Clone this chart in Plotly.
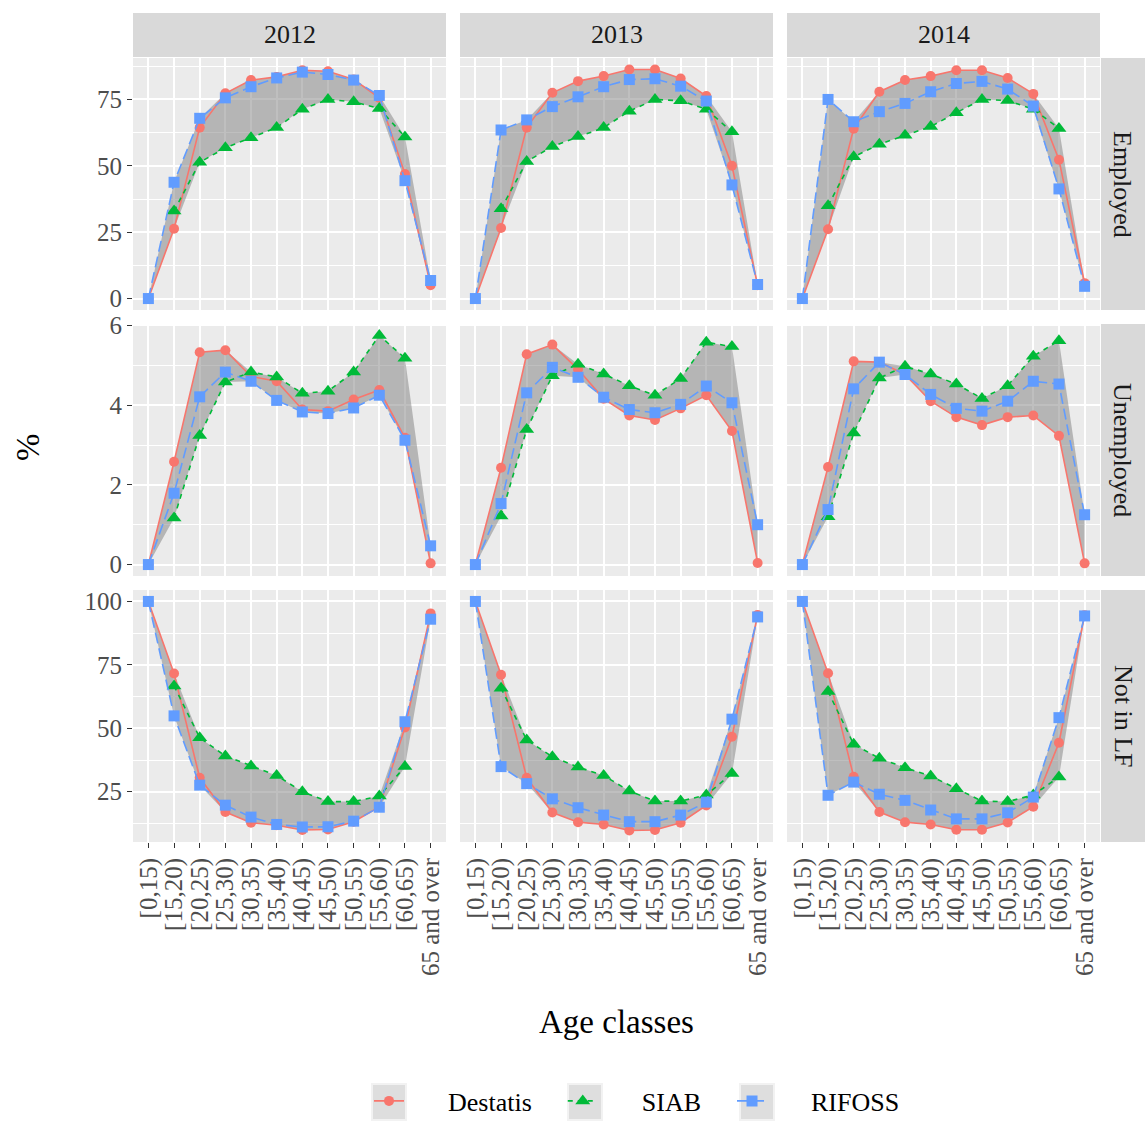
import numpy as np
import plotly.graph_objects as go

# ---------------- data ----------------
age_classes = ["[0,15)", "[15,20)", "[20,25)", "[25,30)", "[30,35)", "[35,40)",
               "[40,45)", "[45,50)", "[50,55)", "[55,60)", "[60,65)", "65 and over"]
years = ["2012", "2013", "2014"]
statuses = ["Employed", "Unemployed", "Not in LF"]
sources = ["Destatis", "SIAB", "RIFOSS"]

# Employed (%)
destatis_employed_2012 = [0, 26.3, 64.4, 77.3, 82.3, 83.5, 86.0, 85.6, 82.5, 75.6, 46.9, 5.0]
siab_employed_2012 = [None, 33.0, 51.3, 56.8, 60.6, 64.4, 71.3, 75.0, 74.1, 71.6, 60.9, None]
rifoss_employed_2012 = [0, 43.8, 67.9, 75.6, 79.8, 83.1, 85.3, 84.4, 82.3, 76.5, 44.4, 6.8]
destatis_employed_2013 = [0, 26.6, 64.4, 77.5, 81.9, 83.8, 86.3, 86.3, 82.9, 76.3, 50.0, 5.0]
siab_employed_2013 = [None, 33.8, 51.6, 57.3, 61.0, 64.4, 70.6, 75.0, 74.5, 71.3, 62.8, None]
rifoss_employed_2013 = [0, 63.5, 67.3, 72.3, 76.0, 79.8, 82.5, 82.8, 80.0, 74.4, 42.8, 5.3]
destatis_employed_2014 = [0, 26.1, 64.0, 77.9, 82.3, 83.8, 86.0, 86.0, 83.1, 77.1, 52.3, 5.8]
siab_employed_2014 = [None, 35.0, 53.4, 58.1, 61.5, 64.8, 70.0, 75.0, 74.6, 71.3, 64.1, None]
rifoss_employed_2014 = [0, 75.0, 66.6, 70.4, 73.5, 77.9, 81.0, 81.8, 78.9, 72.5, 41.3, 4.6]

# Unemployed (%)
destatis_unemployed_2012 = [0, 2.58, 5.33, 5.38, 4.72, 4.60, 3.89, 3.85, 4.14, 4.38, 3.18, 0.03]
siab_unemployed_2012 = [None, 1.17, 3.24, 4.58, 4.83, 4.71, 4.30, 4.35, 4.83, 5.75, 5.18, None]
rifoss_unemployed_2012 = [0, 1.79, 4.21, 4.83, 4.60, 4.12, 3.83, 3.79, 3.93, 4.25, 3.12, 0.47]
destatis_unemployed_2013 = [0, 2.43, 5.28, 5.52, 4.90, 4.16, 3.74, 3.63, 3.92, 4.25, 3.35, 0.04]
siab_unemployed_2013 = [None, 1.22, 3.39, 4.74, 5.03, 4.78, 4.49, 4.25, 4.67, 5.58, 5.47, None]
rifoss_unemployed_2013 = [0, 1.53, 4.31, 4.95, 4.70, 4.20, 3.89, 3.81, 4.02, 4.48, 4.06, 1.00]
destatis_unemployed_2014 = [0, 2.45, 5.10, 5.08, 4.77, 4.10, 3.70, 3.50, 3.70, 3.74, 3.23, 0.03]
siab_unemployed_2014 = [None, 1.20, 3.30, 4.68, 4.98, 4.78, 4.53, 4.17, 4.49, 5.23, 5.62, None]
rifoss_unemployed_2014 = [0, 1.38, 4.41, 5.08, 4.77, 4.27, 3.92, 3.85, 4.10, 4.60, 4.53, 1.25]

# Not in labour force (%)
destatis_notlf_2012 = [100, 71.6, 30.5, 17.0, 12.8, 11.8, 9.9, 10.1, 13.2, 19.0, 50.3, 95.3]
siab_notlf_2012 = [None, 66.7, 46.3, 39.1, 35.1, 31.4, 25.0, 21.1, 21.1, 23.3, 34.9, None]
rifoss_notlf_2012 = [100, 54.9, 27.6, 19.7, 15.0, 12.1, 11.1, 11.2, 13.4, 18.9, 52.6, 93.0]
destatis_notlf_2013 = [100, 71.1, 30.5, 16.8, 13.0, 12.1, 9.7, 9.9, 12.8, 19.6, 46.7, 94.7]
siab_notlf_2013 = [None, 65.8, 45.4, 38.8, 34.7, 31.4, 25.3, 21.3, 21.3, 23.7, 32.2, None]
rifoss_notlf_2013 = [100, 34.9, 28.2, 22.2, 18.7, 15.8, 13.2, 13.2, 15.8, 20.9, 53.6, 93.9]
destatis_notlf_2014 = [100, 71.7, 30.9, 17.0, 13.0, 12.1, 10.0, 10.0, 12.9, 19.1, 44.3, 94.6]
siab_notlf_2014 = [None, 64.5, 43.7, 38.2, 34.5, 31.2, 26.2, 21.3, 21.1, 23.7, 30.8, None]
rifoss_notlf_2014 = [100, 23.6, 28.8, 24.0, 21.6, 17.8, 14.3, 14.3, 16.7, 22.9, 54.2, 94.3]

# y tick labels per row
employed_ticks = [0, 25, 50, 75]
unemployed_ticks = [0, 2, 4, 6]
notlf_ticks = [25, 50, 75, 100]

data = {
    ("Employed", "2012"): [destatis_employed_2012, siab_employed_2012, rifoss_employed_2012],
    ("Employed", "2013"): [destatis_employed_2013, siab_employed_2013, rifoss_employed_2013],
    ("Employed", "2014"): [destatis_employed_2014, siab_employed_2014, rifoss_employed_2014],
    ("Unemployed", "2012"): [destatis_unemployed_2012, siab_unemployed_2012, rifoss_unemployed_2012],
    ("Unemployed", "2013"): [destatis_unemployed_2013, siab_unemployed_2013, rifoss_unemployed_2013],
    ("Unemployed", "2014"): [destatis_unemployed_2014, siab_unemployed_2014, rifoss_unemployed_2014],
    ("Not in LF", "2012"): [destatis_notlf_2012, siab_notlf_2012, rifoss_notlf_2012],
    ("Not in LF", "2013"): [destatis_notlf_2013, siab_notlf_2013, rifoss_notlf_2013],
    ("Not in LF", "2014"): [destatis_notlf_2014, siab_notlf_2014, rifoss_notlf_2014],
}
row_ticks = {"Employed": employed_ticks, "Unemployed": unemployed_ticks, "Not in LF": notlf_ticks}

# ---------------- style / layout ----------------
W, H = 1145, 1124
FONT = "Liberation Serif"
col_px = [(133, 446), (460, 773), (787, 1100)]
row_px = [(58, 310), (324, 576), (590, 842)]
colors = {"Destatis": "#F8766D", "SIAB": "#00BA38", "RIFOSS": "#619CFF"}
symbols = {"Destatis": "circle", "SIAB": "triangle-up", "RIFOSS": "square"}
msizes = {"Destatis": 10, "SIAB": 13, "RIFOSS": 11}
dashes = {"Destatis": "solid", "SIAB": "5px,5px", "RIFOSS": "11px,5px"}
lead_pad = "\u00a0" * 6
trail_pad = "\u00a0" * 4


def px_x(p):
    return p / W


def px_y(p):
    return 1 - p / H


fig = go.Figure()
layout = {}
shapes = []
annotations = []

for r, status in enumerate(statuses):
    # row-wise y range with ggplot-like 5% expansion
    allv = np.array([v for yr in years for s in data[(status, yr)] for v in s if v is not None], dtype=float)
    lo_v, hi_v = allv.min(), allv.max()
    pad = (hi_v - lo_v) * 0.05
    yrange = [lo_v - pad, hi_v + pad]
    ticks = row_ticks[status]
    step = ticks[1] - ticks[0]
    minor_vals = [t + step / 2 for t in [ticks[0] - step] + ticks]
    for c, yr in enumerate(years):
        k = r * 3 + c + 1
        xa = "x" if k == 1 else f"x{k}"
        ya = "y" if k == 1 else f"y{k}"
        series = data[(status, yr)]
        arr = np.array([[np.nan if v is None else v for v in s] for s in series], dtype=float)
        rib_lo = np.nanmin(arr, axis=0)
        rib_hi = np.nanmax(arr, axis=0)
        fig.add_trace(go.Scatter(x=age_classes, y=rib_lo, mode="lines", line=dict(width=0),
                                 showlegend=False, hoverinfo="skip", xaxis=xa, yaxis=ya))
        fig.add_trace(go.Scatter(x=age_classes, y=rib_hi, mode="lines", line=dict(width=0),
                                 fill="tonexty", fillcolor="rgba(127,127,127,0.5)",
                                 showlegend=False, hoverinfo="skip", xaxis=xa, yaxis=ya))
        for name, vals in zip(sources, series):
            fig.add_trace(go.Scatter(
                x=age_classes, y=vals, mode="lines+markers",
                name=lead_pad + name + trail_pad, legendgroup=name, showlegend=(k == 1),
                line=dict(color=colors[name], width=1.6, dash=dashes[name]),
                marker=dict(color=colors[name], symbol=symbols[name], size=msizes[name]),
                xaxis=xa, yaxis=ya))

        xkey = "xaxis" if k == 1 else f"xaxis{k}"
        ykey = "yaxis" if k == 1 else f"yaxis{k}"
        x0, x1 = col_px[c]
        y0, y1 = row_px[r]
        layout[xkey] = dict(
            domain=[px_x(x0), px_x(x1)], anchor=ya, type="category",
            categoryorder="array", categoryarray=age_classes,
            range=[-0.6, len(age_classes) - 0.4],
            tickmode="array", tickvals=age_classes, ticktext=age_classes,
            showticklabels=(r == 2), ticks="outside" if r == 2 else "",
            ticklen=5, tickwidth=1.2, tickcolor="#333333", tickangle=-90,
            tickfont=dict(family=FONT, size=25, color="#4d4d4d"),
            showgrid=True, gridcolor="white", gridwidth=1.5, zeroline=False,
            showline=False, fixedrange=True, automargin=False)
        layout[ykey] = dict(
            domain=[px_y(y1), px_y(y0)], anchor=xa, range=yrange,
            tickmode="array", tickvals=ticks, ticktext=[str(t) for t in ticks],
            showticklabels=(c == 0), ticks="outside" if c == 0 else "",
            ticklen=5, tickwidth=1.2, tickcolor="#333333",
            tickfont=dict(family=FONT, size=25, color="#4d4d4d"),
            showgrid=True, gridcolor="white", gridwidth=1.5, zeroline=False,
            showline=False, fixedrange=True, automargin=False,
            minor=dict(tickmode="array", tickvals=minor_vals, showgrid=True,
                       gridcolor="white", gridwidth=0.8, ticks=""))
        shapes.append(dict(type="rect", xref="paper", yref="paper", layer="below",
                           x0=px_x(x0), x1=px_x(x1), y0=px_y(y1), y1=px_y(y0),
                           fillcolor="#ebebeb", line=dict(width=0)))

# strips
for c, yr in enumerate(years):
    x0, x1 = col_px[c]
    shapes.append(dict(type="rect", xref="paper", yref="paper", x0=px_x(x0), x1=px_x(x1),
                       y0=px_y(57), y1=px_y(13), fillcolor="#d9d9d9", line=dict(width=0)))
    annotations.append(dict(text=yr, xref="paper", yref="paper", x=px_x((x0 + x1) / 2),
                            y=px_y(35), showarrow=False, xanchor="center", yanchor="middle",
                            font=dict(family=FONT, size=26, color="#1a1a1a")))
for r, status in enumerate(statuses):
    y0, y1 = row_px[r]
    shapes.append(dict(type="rect", xref="paper", yref="paper", x0=px_x(1101), x1=px_x(1145),
                       y0=px_y(y1), y1=px_y(y0), fillcolor="#d9d9d9", line=dict(width=0)))
    annotations.append(dict(text=status, xref="paper", yref="paper", x=px_x(1123),
                            y=px_y((y0 + y1) / 2), showarrow=False, textangle=90,
                            xanchor="center", yanchor="middle",
                            font=dict(family=FONT, size=26, color="#1a1a1a")))

# axis titles
annotations.append(dict(text="Age classes", xref="paper", yref="paper", x=px_x(616), y=px_y(1022),
                        showarrow=False, xanchor="center", yanchor="middle",
                        font=dict(family=FONT, size=33, color="black")))
annotations.append(dict(text="%", xref="paper", yref="paper", x=px_x(28), y=px_y(447),
                        showarrow=False, textangle=-90, xanchor="center", yanchor="middle",
                        font=dict(family=FONT, size=33, color="black")))

# legend key backgrounds
for kx in [372, 568, 740]:
    shapes.append(dict(type="rect", xref="paper", yref="paper", x0=px_x(kx), x1=px_x(kx + 34),
                       y0=px_y(1120), y1=px_y(1084), fillcolor="#dedede",
                       line=dict(color="#f2f2f2", width=2)))

fig.update_layout(
    width=W, height=H, margin=dict(l=0, r=0, t=0, b=0, autoexpand=False),
    paper_bgcolor="white", plot_bgcolor="rgba(0,0,0,0)",
    shapes=shapes, annotations=annotations,
    showlegend=True,
    legend=dict(orientation="h", x=px_x(369), xanchor="left", y=px_y(1101), yanchor="middle",
                font=dict(family=FONT, size=26, color="black"),
                bgcolor="rgba(0,0,0,0)", traceorder="normal"),
    hovermode=False,
    **layout)

fig.write_html("out.html")
